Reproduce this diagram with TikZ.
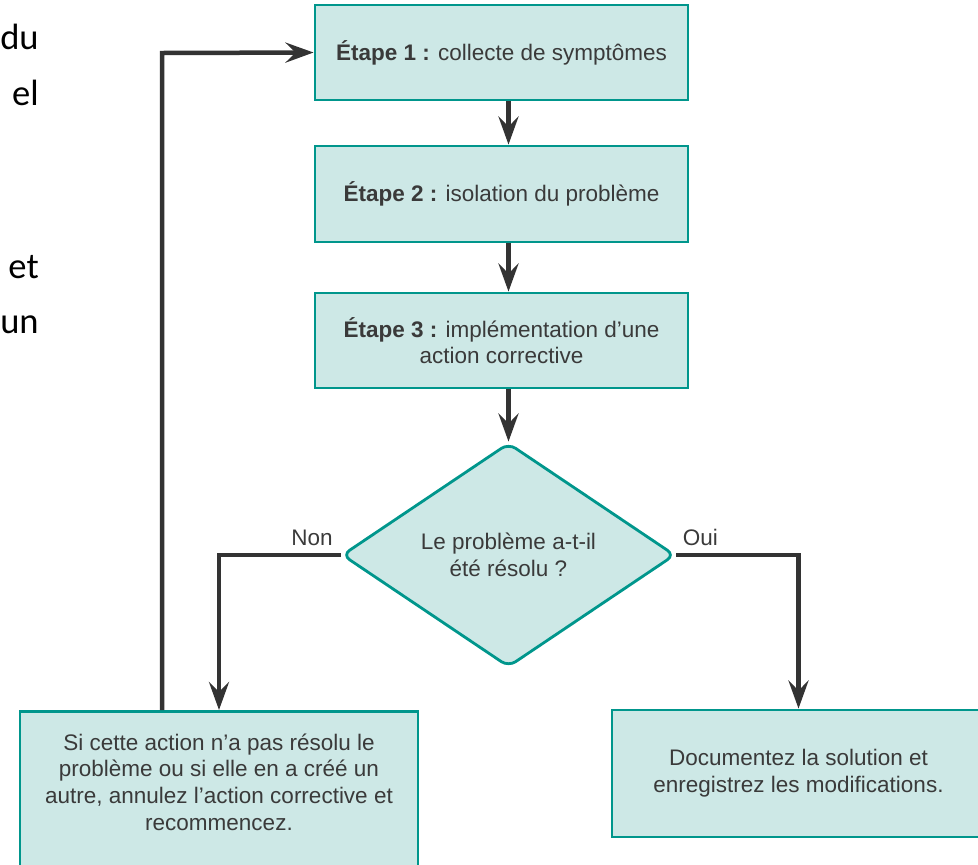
\documentclass[tikz,border=0pt]{standalone}
\usepackage{fontspec}
\setmainfont{Liberation Sans}
\newfontfamily\slidefont{Carlito}
\usetikzlibrary{shapes.geometric,arrows.meta}
\definecolor{boxfill}{HTML}{CDE8E6}
\definecolor{boxline}{HTML}{00968C}
\definecolor{arrgray}{HTML}{333333}
\definecolor{txtgray}{HTML}{3A3A3A}

\begin{document}
\begin{tikzpicture}[x=0.025cm, y=-0.025cm,
 box/.style={rectangle, draw=boxline, line width=2pt, fill=boxfill, minimum width=9.325cm, font=\fontsize{16}{19}\selectfont, text=txtgray, align=center, inner sep=4pt},
 decision/.style={box, diamond, aspect=1.49, minimum width=8.325cm, minimum height=5.6cm, rounded corners=6pt},
 txt/.style={font=\fontsize{16}{19}\selectfont, text=txtgray, align=center},
 arr/.style={-{Stealth[length=0.7cm, width=0.5cm, inset=0.25cm]}, line width=3.2pt, draw=arrgray},
 lbl/.style={font=\fontsize{16}{19}\selectfont, text=txtgray, inner sep=2pt},
 slide/.style={font=\slidefont\fontsize{26}{32}\selectfont, anchor=base east, inner sep=0pt},
]
\useasboundingbox (0,0) rectangle (978,864);
\clip (0,0) rectangle (978,864);

% cut-off slide text on the left
\node[slide] (w1) at (39,49) {du};
\node[slide] (w2) at (39,105) {el};
\node[slide] (w3) at (39,278) {et};
\node[slide] (w4) at (39,333) {un};

\node[box, minimum height=2.375cm] (s1) at (501.5,52.5) {\textbf{Étape 1 :} collecte de symptômes};
\node[box, minimum height=2.4cm] (s2) at (501.5,194) {\textbf{Étape 2 :} isolation du problème};
\node[box, minimum height=2.375cm] (s3) at (501.5,340.5) {\textbf{Étape 3 :} implémentation d'une\\action corrective};
\node[decision] (d) at (508.5,555) {Le problème a-t-il\\été résolu ?};
\node[box, minimum width=9.95cm, minimum height=5cm, anchor=north] (lb) at (219,710) {};
\node[txt] (lbt) at (219,782) {Si cette action n'a pas résolu le\\problème ou si elle en a créé un\\autre, annulez l'action corrective et\\recommencez.};
\node[box, minimum height=3.175cm] (rb) at (798.5,773.5) {Documentez la solution et\\enregistrez les modifications.};
\coordinate (back) at (162,53);

\draw[arr] (s1.south -| d.north) -- (s2.north -| d.north);
\draw[arr] (s2.south -| d.north) -- (s3.north -| d.north);
\draw[arr] (s3.south -| d.north) -- (d.north);
\draw[arr] (d.west) -| (lb.north) node[lbl, pos=0, anchor=south east, xshift=-2pt, yshift=3pt] {Non};
\draw[arr] (d.east) -| (rb.north) node[lbl, pos=0, anchor=south west, xshift=1pt, yshift=3pt] {Oui};
\draw[arr] (back |- lb.north) -- (back) -- (s1.west);
\end{tikzpicture}
\end{document}
